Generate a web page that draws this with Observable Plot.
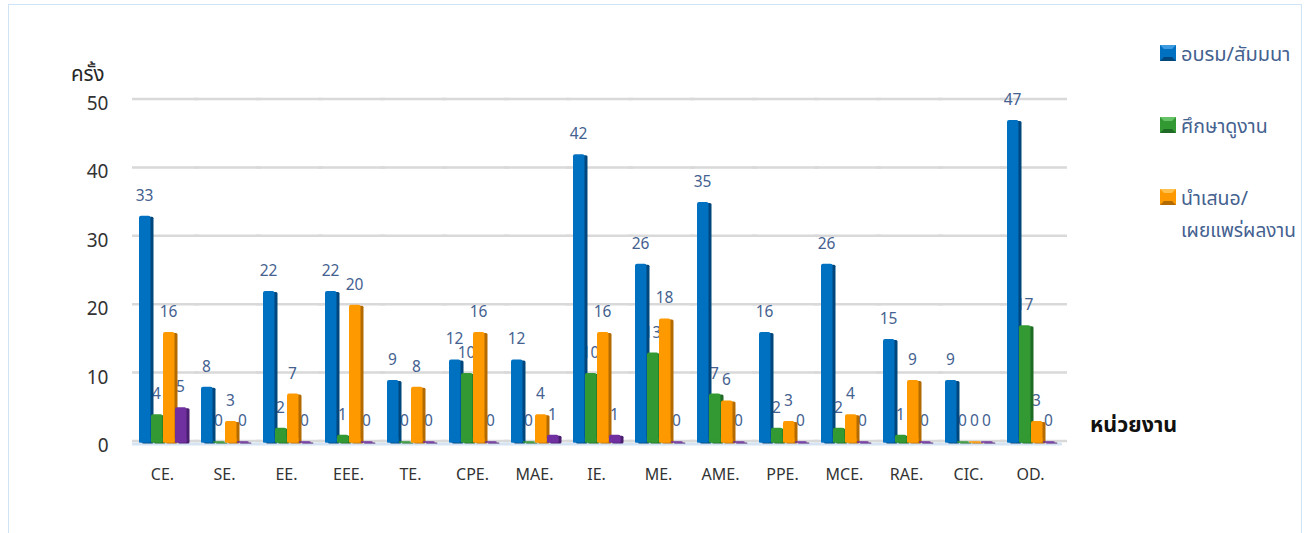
<!DOCTYPE html>
<html><head><meta charset="utf-8">
<script src="https://cdn.jsdelivr.net/npm/d3@7"></script>
<script src="https://cdn.jsdelivr.net/npm/@observablehq/plot@0.6"></script>
<style>
html,body{margin:0;padding:0;background:#fff;overflow:hidden}
#wrap{position:relative;width:1310px;height:533px;font-family:"Noto Sans","Noto Sans Thai",Tahoma,sans-serif}
#frame{position:absolute;left:8px;top:4px;width:1294px;height:540px;border:1px solid #cfe3f5;box-sizing:border-box}
.t{position:absolute;white-space:nowrap;line-height:1}
.sw{position:absolute;width:16px;height:16px;box-sizing:border-box;border-style:solid;border-width:4px}
svg{position:absolute;left:0;top:0}
</style></head><body>
<div id="wrap"><div id="frame"></div></div>
<script>
const categories = ["CE.","SE.","EE.","EEE.","TE.","CPE.","MAE.","IE.","ME.","AME.","PPE.","MCE.","RAE.","CIC.","OD."];
const seriesNames = ["อบรม/สัมมนา","ศึกษาดูงาน","นำเสนอ/เผยแพร่ผลงาน","s4"];
const training = [33,8,22,22,9,12,12,42,26,35,16,26,15,9,47];
const visits   = [4,0,2,1,0,10,0,10,13,7,2,2,1,0,17];
const present  = [16,3,7,20,8,16,4,16,18,6,3,4,9,0,3];
const other    = [5,0,0,0,0,0,1,1,0,0,0,0,0,0,0];
const yTicks = [0,10,20,30,40,50];
const frontColors = ["#0070c0","#339933","#ff9900","#7030a0"];
const sideColors  = ["#00477d","#1f6b26","#b36b00","#4b1f70"];
const lightColors = ["#3f9be0","#66c266","#ffc04d","#9a5cc8"];

const columns = [training,visits,present,other];
const rows = seriesNames.flatMap((s,i)=>categories.map((c,j)=>({cat:c,series:s,value:columns[i][j]})));
const barsFor = seriesNames.flatMap((s,i)=>{
  const d = rows.filter(r=>r.series===s);
  return [
    Plot.barY(d,{fx:"cat",x:"series",y:"value",fill:sideColors[i],dx:3,dy:1,insetRight:.5,insetBottom:-1,rx:1.5}),
    Plot.barY(d,{fx:"cat",x:"series",y:"value",fill:frontColors[i],insetRight:.5,insetBottom:-1,rx:2}),
    Plot.barY(d,{fx:"cat",x:"series",y1:()=>0,y2:r=>Math.min(r.value,.5),fill:frontColors[i],insetRight:.5,insetBottom:-1})
  ];
});
const chart = Plot.plot({
  width:1310,height:533,
  marginLeft:132,marginRight:248,marginTop:60,marginBottom:91.5,
  style:{fontFamily:'"Noto Sans",sans-serif',background:"transparent",overflow:"visible"},
  fx:{domain:categories,padding:0},
  x:{domain:seriesNames,range:[138,188],padding:0,axis:null},
  y:{domain:[0,50],range:[441.5,99.5],axis:null},
  marks:[
    Plot.ruleY(yTicks.flatMap(t=>categories.map(c=>({t,c}))),{fx:"c",y:"t",stroke:"#d9d9d9",strokeWidth:2.5,dy:-1,insetRight:-5}),
    Plot.ruleY(categories.map(c=>({c})),{fx:"c",y:()=>0,stroke:"#d5e3f3",strokeWidth:3,dy:2}),
    Plot.text(rows,{fx:"cat",x:"series",y:"value",text:d=>String(d.value),dx:-1,dy:-20.5,fill:"#44618f",fontSize:15.5}),
    ...barsFor,
    Plot.axisY({anchor:"left",ticks:yTicks,tickSize:0,tickPadding:24,label:null,fontSize:19,fill:"#333",dy:4}),
    Plot.axisFx({anchor:"bottom",tickSize:0,tickPadding:27,label:null,fontSize:16,fill:"#333",dx:-1})
  ]
});
const wrap = document.getElementById("wrap");
wrap.appendChild(chart);
function label(txt,x,y,size,color,weight){
  const e=document.createElement("div");e.className="t";e.textContent=txt;
  e.style.cssText+=`left:${x}px;top:${y}px;font-size:${size}px;color:${color};font-weight:${weight||400}`;
  wrap.appendChild(e);
}
label("ครั้ง",71,63,20.5,"#262626");
label("หน่วยงาน",1090,413,21.5,"#111",700);
[["อบรม/สัมมนา",45,0,20],["ศึกษาดูงาน",117,1,19.5],["นำเสนอ/",189,2,19.5]].forEach(([t,y,i,fs])=>{
  const s=document.createElement("div");s.className="sw";
  s.style.cssText+=`left:1160px;top:${y}px;background:${frontColors[i]};border-color:${lightColors[i]} ${frontColors[i]} ${sideColors[i]} ${frontColors[i]}`;
  wrap.appendChild(s);
  label(t,1181,y-1,fs,"#44618f");
});
label("เผยแพร่ผลงาน",1181,221,19,"#44618f");
</script>
</body></html>
